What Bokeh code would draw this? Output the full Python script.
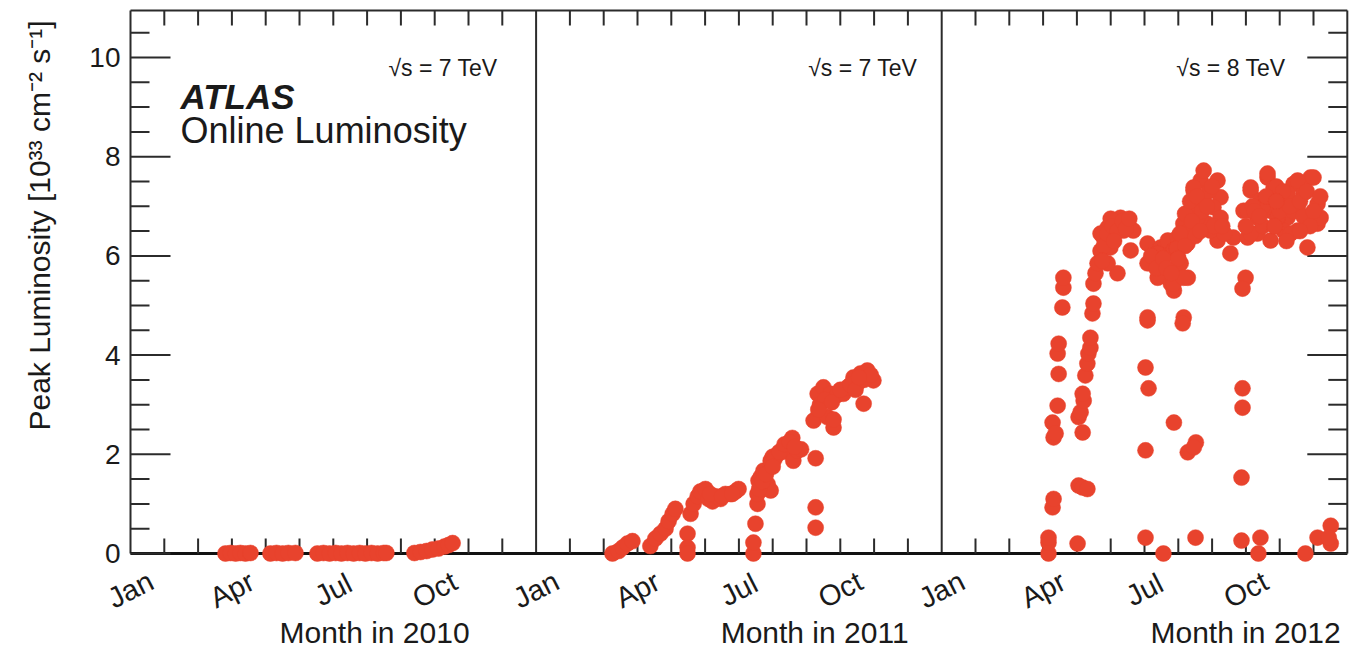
import math
from bokeh.plotting import figure
from bokeh.models import Range1d, Label, LabelSet, ColumnDataSource
from bokeh.core.properties import value
from bokeh.embed import file_html
from bokeh.resources import INLINE

# ---------------- data ----------------
years = ["2010", "2011", "2012"]
energies = ["7 TeV", "7 TeV", "8 TeV"]
tick_month_index = [0, 3, 6, 9]
tick_month_names = ["Jan", "Apr", "Jul", "Oct"]
y_major_ticks = [0, 2, 4, 6, 8, 10]
y_tick_labels = ["0", "2", "4", "6", "8", "10"]

# month of year (0 = 1 Jan, 12 = end of Dec) and peak luminosity [1e33 cm-2 s-1]
month_2010 = [2.81, 2.96, 3.11, 3.25, 3.40, 3.55, 4.14, 4.32, 4.50, 4.67, 4.88,
              5.53, 5.71, 5.89, 6.07, 6.24, 6.42, 6.60, 6.78, 6.95, 7.13, 7.31,
              7.49, 7.57, 8.40, 8.58, 8.76, 8.93, 9.11, 9.29, 9.41, 9.53]
lumi_2010 = [0.00, 0.01, 0.00, 0.01, 0.00, 0.01, 0.00, 0.01, 0.00, 0.01, 0.01,
             0.00, 0.01, 0.00, 0.01, 0.00, 0.01, 0.00, 0.01, 0.00, 0.01, 0.00,
             0.01, 0.01, 0.01, 0.03, 0.05, 0.08, 0.10, 0.14, 0.17, 0.21]

month_2011 = [2.26, 2.44, 2.56, 2.70, 2.85,
              3.38, 3.53, 3.68, 3.83, 3.92, 4.04, 4.12,
              4.48, 4.48, 4.48,
              4.57, 4.66, 4.78, 4.86, 5.01, 5.10, 5.22, 5.34, 5.46, 5.60, 5.75, 5.90, 5.99,
              5.15, 5.50, 5.80,
              6.43, 6.43, 6.49, 6.55, 6.55, 6.58, 6.65, 6.73, 6.85, 6.94, 6.94, 7.00,
              7.14, 7.30, 7.44, 7.58, 7.61, 7.73, 7.84,
              6.60, 6.70, 6.80, 7.05, 7.20, 7.35, 7.50, 7.65, 7.00,
              8.27, 8.27, 8.27,
              8.21, 8.33, 8.50, 8.62, 8.71, 8.80, 8.92, 9.09, 9.21, 9.39, 9.51, 9.60,
              9.69, 9.80, 9.98,
              8.40, 8.55, 8.75, 9.00, 9.30, 9.45, 9.70, 9.90, 9.55, 8.35, 8.80]
lumi_2011 = [0.00, 0.05, 0.12, 0.20, 0.25,
             0.15, 0.30, 0.40, 0.50, 0.65, 0.80, 0.90,
             0.40, 0.12, 0.00,
             0.80, 1.00, 1.15, 1.25, 1.30, 1.10, 1.05, 1.15, 1.10, 1.20, 1.20, 1.25, 1.30,
             1.20, 1.15, 1.20,
             0.00, 0.22, 0.60, 1.00, 1.20, 1.47, 1.55, 1.67, 1.40, 1.87, 1.27, 1.95,
             2.00, 2.05, 2.13, 2.33, 1.87, 2.07, 2.10,
             1.30, 1.45, 1.60, 1.90, 2.05, 2.20, 2.25, 2.15, 1.75,
             1.92, 0.93, 0.52,
             2.68, 3.22, 3.35, 2.75, 3.22, 2.54, 3.20, 3.22, 3.35, 3.55, 3.43, 3.63,
             3.02, 3.69, 3.49,
             3.00, 3.10, 3.05, 3.30, 3.40, 3.30, 3.50, 3.60, 3.55, 2.90, 2.70]

month_2012 = [3.16, 3.16, 3.16, 3.28, 3.31, 3.31, 3.28, 3.37, 3.43, 3.46, 3.43, 3.46,
              3.57, 3.60, 3.60,
              4.02, 4.05, 4.17, 4.31, 4.17, 4.05, 4.11, 4.20, 4.17, 4.25, 4.31, 4.34,
              4.40, 4.40, 4.46, 4.49, 4.49, 4.55, 4.61, 4.70, 4.79, 4.91, 5.08, 5.29,
              5.50, 5.67, 5.59, 5.20, 4.91, 4.99, 4.70, 5.08, 5.38, 5.20, 5.00, 5.40,
              4.80, 4.90, 5.05, 5.20, 5.35, 5.45, 5.55, 5.10, 4.75,
              6.03, 6.12, 6.03, 6.03, 6.09, 6.27, 6.48, 6.69, 6.09, 6.98, 6.39, 6.09,
              6.39, 6.78, 6.98, 7.28, 6.87, 6.09, 7.16, 7.13, 6.87, 7.28, 7.52, 7.46,
              6.56, 7.51,
              6.86, 6.98, 7.15, 7.36, 7.45, 7.66, 7.75, 8.16, 8.25, 8.04, 7.86, 8.16,
              8.54, 8.63, 7.95, 7.27, 7.07, 6.86, 7.15, 7.57, 7.75, 8.25, 7.45, 8.36,
              7.60, 7.90, 7.30, 8.00, 7.50,
              6.20, 6.35, 6.55, 6.65, 6.80, 6.95, 7.05, 7.20, 7.35, 7.55, 7.70, 7.85,
              8.05, 8.30, 7.40, 7.65, 7.20, 7.00,
              8.93, 9.14, 9.05, 9.34, 9.64, 9.82, 9.73, 9.73, 10.02, 10.23, 10.41,
              10.53, 10.70, 10.91, 11.12, 11.12, 10.82, 10.53, 10.11, 9.34, 9.93,
              10.23, 9.43, 9.14, 9.64, 10.53, 11.00, 11.21, 9.05, 9.14, 10.32, 9.50,
              10.00, 10.40, 10.70, 9.90, 9.20,
              9.00, 9.25, 9.50, 9.60, 9.85, 10.10, 10.30, 10.60, 10.80, 11.00, 11.20,
              10.90, 10.60, 10.20, 9.90, 9.40,
              8.99, 8.90, 8.90, 8.90, 8.87, 8.87, 9.43, 9.37, 10.76, 11.12, 11.51,
              11.51, 11.45]
lumi_2012 = [0.00, 0.22, 0.32, 0.93, 1.10, 2.34, 2.64, 2.42, 2.98, 3.62, 4.03, 4.23,
             4.96, 5.36, 5.56,
             0.20, 1.37, 1.33, 1.30, 2.44, 2.75, 2.85, 3.08, 3.22, 3.59, 3.83, 4.03,
             4.15, 4.35, 4.84, 5.04, 5.44, 5.65, 5.85, 6.10, 6.37, 6.57, 6.71, 6.77,
             6.65, 6.51, 6.11, 5.65, 5.85, 6.17, 6.45, 6.45, 6.51, 6.60, 6.75, 6.72,
             6.20, 6.45, 6.60, 6.50, 6.70, 6.55, 6.75, 6.30, 5.90,
             3.75, 3.33, 2.08, 0.32, 6.25, 5.90, 6.17, 6.31, 4.70, 5.97, 6.05, 5.85,
             5.56, 5.44, 5.77, 5.56, 5.30, 4.76, 4.76, 4.64, 2.64, 2.04, 2.24, 2.14,
             0.00, 0.32,
             6.11, 6.37, 6.65, 6.91, 7.32, 7.52, 7.72, 7.52, 7.18, 6.98, 6.65, 6.31,
             6.05, 6.37, 6.51, 6.25, 5.85, 5.44, 5.56, 6.77, 7.12, 6.77, 7.38, 6.45,
             7.00, 7.30, 6.50, 7.40, 6.40,
             6.00, 5.75, 5.95, 5.75, 5.65, 6.15, 6.45, 6.85, 7.10, 7.20, 6.90, 7.00,
             6.60, 6.60, 6.70, 6.50, 6.20, 5.95,
             6.91, 7.32, 6.37, 6.77, 7.58, 7.38, 6.91, 6.31, 7.12, 6.77, 7.45,
             6.98, 7.26, 7.58, 7.05, 6.65, 6.17, 6.51, 6.51, 6.45, 6.77,
             7.26, 7.12, 7.38, 7.66, 7.52, 7.58, 6.77, 6.91, 6.45, 6.45, 7.00,
             6.90, 6.90, 6.80, 7.40, 7.00,
             6.60, 6.90, 6.60, 7.20, 6.60, 7.30, 7.00, 7.10, 7.30, 6.90, 7.20,
             6.60, 6.50, 6.30, 7.10, 6.80,
             5.56, 5.34, 3.33, 2.94, 1.53, 0.26, 0.32, 0.00, 0.00, 0.32, 0.56,
             0.20, 0.32]

months_by_year = [month_2010, month_2011, month_2012]
lumi_by_year = [lumi_2010, lumi_2011, lumi_2012]

# ---------------- layout constants ----------------
W, H = 1367, 648
LEFT_PX = 130          # pixel column of x = 0 (Jan 2010)
ZERO_PX = 553          # pixel row of y = 0
PX_X = 33.8            # pixels per month
PX_Y = 49.6            # pixels per luminosity unit
FONT_NAME = "Liberation Sans"
FONT = value(FONT_NAME)
TXT = "#1a1a1a"
AX = "#2b2b2b"
RED = "#e8432d"

n_years = len(years)
x_end = 12 * n_years
y_top = 10.95

def px_x(n):   # horizontal pixel length -> data units
    return n / PX_X

def px_y(n):   # vertical pixel length -> data units
    return n / PX_Y

p = figure(width=W, height=H, output_backend="svg", toolbar_location=None,
           x_range=Range1d(-px_x(LEFT_PX), px_x(W - LEFT_PX)),
           y_range=Range1d(-px_y(H - ZERO_PX), px_y(ZERO_PX)),
           x_axis_location=None, y_axis_location=None,
           min_border_left=0, min_border_right=0,
           min_border_top=0, min_border_bottom=0)
p.grid.visible = False
p.outline_line_color = None
p.background_fill_color = "white"
p.border_fill_color = "white"

# ---------------- frame, dividers ----------------
bounds_x = [12 * i for i in range(n_years + 1)]          # 0, 12, 24, 36
p.segment(x0=bounds_x, y0=[0] * len(bounds_x), x1=bounds_x,
          y1=[y_top] * len(bounds_x), line_color=AX, line_width=2,
          level="underlay")
p.segment(x0=[0], y0=[y_top], x1=[x_end], y1=[y_top],
          line_color=AX, line_width=2, level="underlay")
p.segment(x0=[0], y0=[0], x1=[x_end], y1=[0],
          line_color="#111111", line_width=3, level="underlay")

# ---------------- x ticks (bottom and top) ----------------
month_ticks = [m for m in range(1, x_end) if m % 12 != 0]
tl = px_y(15)
p.segment(x0=month_ticks, y0=[0] * len(month_ticks), x1=month_ticks,
          y1=[tl] * len(month_ticks), line_color=AX, line_width=2,
          level="underlay")
p.segment(x0=month_ticks, y0=[y_top] * len(month_ticks), x1=month_ticks,
          y1=[y_top - tl] * len(month_ticks), line_color=AX, line_width=2,
          level="underlay")

# ---------------- y ticks (left and right) ----------------
y_minor = [k * 0.5 for k in range(1, 22) if k % 4 != 0]
maj_len = px_x(40)
min_len = px_x(19)
for edge, sgn in ((0, 1), (x_end, -1)):
    p.segment(x0=[edge] * len(y_major_ticks), y0=y_major_ticks,
              x1=[edge + sgn * maj_len] * len(y_major_ticks), y1=y_major_ticks,
              line_color=AX, line_width=2, level="underlay")
    p.segment(x0=[edge] * len(y_minor), y0=y_minor,
              x1=[edge + sgn * min_len] * len(y_minor), y1=y_minor,
              line_color=AX, line_width=2, level="underlay")

ysrc = ColumnDataSource(dict(x=[-px_x(10)] * len(y_major_ticks),
                             y=y_major_ticks, text=y_tick_labels))
p.add_layout(LabelSet(x="x", y="y", text="text", source=ysrc,
                      text_align="right", text_baseline="middle",
                      text_font=FONT, text_font_size="28px", text_color=TXT))

# ---------------- data points ----------------
xs, ys = [], []
for i in range(n_years):
    xs += [m + 12 * i for m in months_by_year[i]]
    ys += lumi_by_year[i]
p.scatter(xs, ys, size=16, fill_color=RED, line_color=RED, line_width=0.5)

# ---------------- month tick labels ----------------
lab_x, lab_t = [], []
for i in range(n_years):
    for m, name in zip(tick_month_index, tick_month_names):
        lab_x.append(m + 12 * i)
        lab_t.append(name)
src = ColumnDataSource(dict(x=lab_x, y=[-px_y(589 - ZERO_PX)] * len(lab_x),
                            text=lab_t))
p.add_layout(LabelSet(x="x", y="y", text="text", source=src, angle=0.47,
                      text_align="center", text_baseline="middle",
                      text_font=FONT, text_font_size="29px", text_color=TXT))

# "Month in YYYY"
month_title_x = [7.22, 20.24, 32.99]
for i, yr in enumerate(years):
    p.add_layout(Label(x=month_title_x[i], y=-px_y(632 - ZERO_PX),
                       text="Month in " + yr,
                       text_align="center", text_baseline="middle",
                       text_font=FONT_NAME, text_font_size="30px",
                       text_color=TXT))

# sqrt(s) labels
sqrt_x = [10.86, 23.28, 34.17]
for i, e in enumerate(energies):
    p.add_layout(Label(x=sqrt_x[i], y=9.78, text="\u221As = " + e,
                       text_align="right", text_baseline="middle",
                       text_font=FONT_NAME, text_font_size="23px",
                       text_color=TXT))

# ATLAS labels
p.add_layout(Label(x=1.48, y=9.22, text="ATLAS", text_font=FONT_NAME,
                   text_font_style="bold italic", text_font_size="35px",
                   text_color=TXT, text_baseline="alphabetic"))
p.add_layout(Label(x=1.48, y=8.52, text="Online Luminosity",
                   text_font=FONT_NAME, text_font_size="36px",
                   text_color=TXT, text_baseline="alphabetic"))

# y axis title
p.add_layout(Label(x=-px_x(LEFT_PX - 39), y=px_y(ZERO_PX - 225), angle=math.pi / 2,
                   text="Peak Luminosity [10\u00b3\u00b3 cm\u207b\u00b2 s\u207b\u00b9]",
                   text_align="center", text_baseline="middle",
                   text_font=FONT_NAME, text_font_size="30px",
                   text_color=TXT))

open("out.html", "w").write(file_html(p, INLINE))
